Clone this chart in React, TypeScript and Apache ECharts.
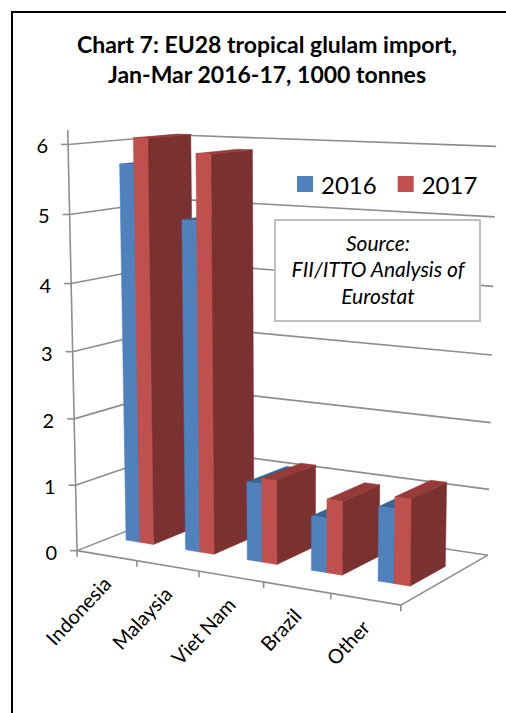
import React, { useEffect, useRef } from "react";
import * as echarts from "echarts";

const categories = ["Indonesia", "Malaysia", "Viet Nam", "Brazil", "Other"];
const values2016 = [5.68, 4.92, 1.17, 0.8, 1.08];
const values2017 = [6.07, 5.88, 1.25, 1.08, 1.25];
const yTicks = [0, 1, 2, 3, 4, 5, 6];
const titleText = "Chart 7: EU28 tropical glulam import,\nJan-Mar 2016-17, 1000 tonnes";
const sourceText = "Source:\nFII/ITTO Analysis of\nEurostat";

const FONT = "Lato";
const AXIS_MAX = 6.2;
const BAR_W = 0.233;
const Z0 = 0.3;
const Z1 = 0.7;
const LINE = "#8e8e8e";

// Camera calibration: [across, value, depth] of the plot box -> picture position
const cameraAnchors: number[][] = [
  [0, 0, 0, 77, 551], [0.2, 0, 0, 137, 561], [0.4, 0, 0, 199, 571.3], [0.6, 0, 0, 264, 582],
  [0.8, 0, 0, 331, 593], [1, 0, 0, 401, 605],
  [0, 1, 0, 75.5, 485], [0, 2, 0, 74, 419], [0, 3, 0, 72.5, 351], [0, 4, 0, 71, 283],
  [0, 5, 0, 69.5, 215], [0, 6, 0, 68, 145],
  [1, 0, 1, 487, 556], [1, 1, 1, 489, 490], [1, 2, 1, 490, 422], [1, 3, 1, 492, 355],
  [1, 4, 1, 494, 285], [1, 5, 1, 495, 217], [1, 6, 1, 496, 147],
  [0, 0, 1, 183, 509], [0, 6, 1, 178, 135],
];

function solveCamera(anchors: number[][]): number[] {
  const n = 11;
  const A: number[][] = Array.from({ length: n }, () => new Array(n + 1).fill(0));
  const add = (r: number[], b: number) => {
    for (let i = 0; i < n; i++) {
      for (let j = 0; j < n; j++) A[i][j] += r[i] * r[j];
      A[i][n] += r[i] * b;
    }
  };
  for (const [u, v, z, sx, sy] of anchors) {
    const y = v / 6;
    const X = sx / 100;
    const Y = sy / 100;
    add([u, y, z, 1, 0, 0, 0, 0, -X * u, -X * y, -X * z], X);
    add([0, 0, 0, 0, u, y, z, 1, -Y * u, -Y * y, -Y * z], Y);
  }
  for (let c = 0; c < n; c++) {
    let p = c;
    for (let r = c + 1; r < n; r++) if (Math.abs(A[r][c]) > Math.abs(A[p][c])) p = r;
    [A[c], A[p]] = [A[p], A[c]];
    for (let r = 0; r < n; r++) {
      if (r === c) continue;
      const f = A[r][c] / A[c][c];
      for (let k = c; k <= n; k++) A[r][k] -= f * A[c][k];
    }
  }
  return A.map((row, i) => row[n] / row[i]);
}

const cam = solveCamera(cameraAnchors);

function project(u: number, v: number, z: number): number[] {
  const y = v / 6;
  const w = cam[8] * u + cam[9] * y + cam[10] * z + 1;
  return [
    (100 * (cam[0] * u + cam[1] * y + cam[2] * z + cam[3])) / w,
    (100 * (cam[4] * u + cam[5] * y + cam[6] * z + cam[7])) / w,
  ];
}

function textEl(text: string, x: number, y: number, fontSize: number, align: string, rotation = 0) {
  return {
    type: "text",
    x,
    y,
    rotation,
    silent: true,
    z2: 5,
    style: {
      text,
      fill: "#000",
      fontSize,
      fontFamily: FONT,
      align,
      verticalAlign: "middle",
      textAlign: align,
      textVerticalAlign: "middle",
    },
  };
}

function lineEl(points: number[][], width = 1.6) {
  return {
    type: "polyline",
    silent: true,
    z2: 1,
    shape: { points },
    style: { stroke: LINE, lineWidth: width, fill: "none" },
  };
}

function barRenderer(seriesIndex: number, front: string, top: string, side: string) {
  return (params: any, api: any) => {
    const i = api.value(0);
    const cs = params.coordSys;
    const centre = api.coord([i, 0])[0];
    const band = api.size([1, 0])[0];
    const uOf = (k: number) => (centre + k * band - cs.x) / cs.width;
    const toValue = (py: number) => ((cs.y + cs.height - py) / cs.height) * AXIS_MAX;
    const h = toValue(api.coord([i, api.value(1)])[1]);
    const u0 = uOf(seriesIndex === 0 ? -BAR_W : 0);
    const u1 = uOf(seriesIndex === 0 ? 0 : BAR_W);
    const face = (pts: number[][], fill: string, order: number) => ({
      type: "polygon",
      silent: true,
      z2: 10 + i * 10 + seriesIndex * 4 + order,
      shape: { points: pts.map((p) => project(p[0], p[1], p[2])) },
      style: { fill, stroke: fill, lineWidth: 0.5 },
    });
    return {
      type: "group",
      children: [
        face([[u1, 0, Z0], [u1, 0, Z1], [u1, h, Z1], [u1, h, Z0]], side, 0),
        face([[u0, h, Z0], [u1, h, Z0], [u1, h, Z1], [u0, h, Z1]], top, 1),
        face([[u0, 0, Z0], [u1, 0, Z0], [u1, h, Z0], [u0, h, Z0]], front, 2),
      ],
    };
  };
}

function renderValueAxis(_params: any, api: any) {
  const t = yTicks[api.value(0)];
  const a = project(0, t, 0);
  const b = project(0, t, 1);
  const c = project(1, t, 1);
  return {
    type: "group",
    children: [
      lineEl([a, b, c]),
      lineEl([[a[0] - 7, a[1]], a]),
      textEl(String(t), a[0] - 20, a[1] + 1, 20, "right"),
    ],
  };
}

function renderCategoryAxis(params: any, api: any) {
  const i = api.value(0);
  const cs = params.coordSys;
  const centre = api.coord([i, 0])[0];
  const band = api.size([1, 0])[0];
  const mid = project((centre - cs.x) / cs.width, 0, 0);
  const tick = project((centre + band / 2 - cs.x) / cs.width, 0, 0);
  const children: any[] = [
    lineEl([tick, [tick[0], tick[1] + 6]]),
    textEl(categories[i], mid[0], mid[1] + 24, 20, "right", (47 * Math.PI) / 180),
  ];
  if (i === 0) {
    children.push(lineEl([project(0, AXIS_MAX, 0), project(0, 0, 0), [project(0, 0, 0)[0], project(0, 0, 0)[1] + 6]]));
    children.push(lineEl([project(0, 0, 0), project(1, 0, 0), project(1, 0, 1)]));
  }
  return { type: "group", children };
}

export default function App() {
  const ref = useRef<HTMLDivElement>(null);
  useEffect(() => {
    const chart = echarts.init(ref.current as HTMLDivElement, undefined, { renderer: "svg" });
    chart.setOption({
      animation: false,
      backgroundColor: "#fff",
      title: {
        text: titleText,
        left: 262,
        top: 24,
        textAlign: "center",
        textStyle: { fontFamily: FONT, fontWeight: "bold", fontSize: 23, lineHeight: 30, color: "#000" },
      },
      legend: {
        data: ["2016", "2017"],
        left: 297,
        top: 172,
        padding: 0,
        itemWidth: 16,
        itemHeight: 16,
        itemGap: 21,
        icon: "rect",
        selectedMode: false,
        textStyle: { fontFamily: FONT, fontSize: 24, color: "#000", padding: [0, 0, 0, 3] },
      },
      grid: { left: 0, top: 0, width: 506, height: 713 },
      xAxis: { type: "category", data: categories, show: false },
      yAxis: { type: "value", min: 0, max: AXIS_MAX, show: false },
      graphic: [
        { type: "rect", z: 100, shape: { x: 12, y: 12, width: 600, height: 800 }, style: { fill: "none", stroke: "#000", lineWidth: 2 } },
        { type: "rect", z: 100, shape: { x: 275, y: 220, width: 205, height: 101 }, style: { fill: "#fff", stroke: "#bfbfbf", lineWidth: 2 } },
        {
          type: "text",
          z: 101,
          x: 378,
          y: 268.5,
          style: {
            text: sourceText,
            fontFamily: FONT,
            fontStyle: "italic",
            fontSize: 21,
            lineHeight: 26.5,
            fill: "#000",
            align: "center",
            verticalAlign: "middle",
            textAlign: "center",
            textVerticalAlign: "middle",
          },
        },
      ],
      series: [
        {
          type: "custom",
          name: "gridlines",
          silent: true,
          data: yTicks.map((_, k) => [k, 0]),
          encode: { x: 0, y: 1 },
          renderItem: renderValueAxis,
        },
        {
          type: "custom",
          name: "categoryAxis",
          silent: true,
          data: categories.map((_, k) => [k, 0]),
          encode: { x: 0, y: 1 },
          renderItem: renderCategoryAxis,
        },
        {
          type: "custom",
          name: "2016",
          silent: true,
          itemStyle: { color: "#4F81BD" },
          data: values2016.map((v, k) => [k, v]),
          encode: { x: 0, y: 1 },
          renderItem: barRenderer(0, "#4F81BD", "#3A6592", "#2F5580"),
        },
        {
          type: "custom",
          name: "2017",
          silent: true,
          itemStyle: { color: "#C0504D" },
          data: values2017.map((v, k) => [k, v]),
          encode: { x: 0, y: 1 },
          renderItem: barRenderer(1, "#C0504D", "#963B39", "#7B3130"),
        },
      ],
    });
    return () => chart.dispose();
  }, []);
  return <div ref={ref} style={{ position: "fixed", left: 0, top: 0, width: 506, height: 713 }} />;
}
